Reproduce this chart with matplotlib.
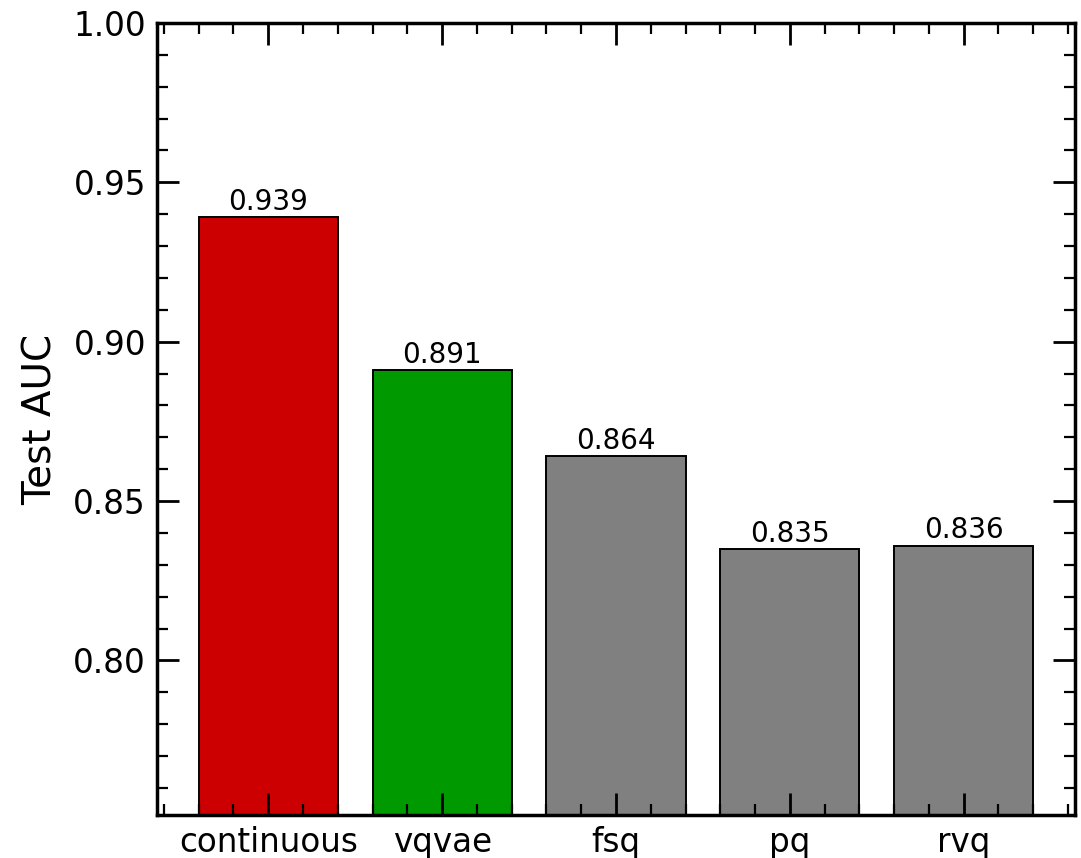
import matplotlib.pyplot as plt
from matplotlib.ticker import AutoMinorLocator, MultipleLocator

# Test AUC per quantizer
METHODS = ["continuous", "vqvae", "fsq", "pq", "rvq"]
AUC = [0.939, 0.891, 0.864, 0.835, 0.836]
BAR_COLORS = ["#CC0000", "#009900", "#808080", "#808080", "#808080"]

fig, ax = plt.subplots(figsize=(10.81, 8.58), dpi=100)
fig.subplots_adjust(left=157 / 1081, right=1075 / 1081, top=1 - 23 / 858, bottom=1 - 815 / 858)

bars = ax.bar(METHODS, AUC, width=0.8, color=BAR_COLORS, edgecolor="black", linewidth=1.4)
for b, v in zip(bars, AUC):
    ax.text(b.get_x() + b.get_width() / 2, v + 0.0004, f"{v:.3f}",
            ha="center", va="bottom", fontsize=20)

ax.set_ylim(min(AUC) * 0.9, 1.0)
ax.set_ylabel("Test AUC", fontsize=28, labelpad=10)
ax.yaxis.set_major_locator(MultipleLocator(0.05))
ax.yaxis.set_minor_locator(AutoMinorLocator(5))
ax.xaxis.set_minor_locator(AutoMinorLocator(5))
ax.tick_params(which="both", direction="in", top=True, right=True, labelsize=23.5)
ax.tick_params(which="major", length=16, width=2, pad=8)
ax.tick_params(which="minor", length=8, width=1.6)
for s in ax.spines.values():
    s.set_linewidth(2.5)

fig.savefig("out.png", dpi=100)
